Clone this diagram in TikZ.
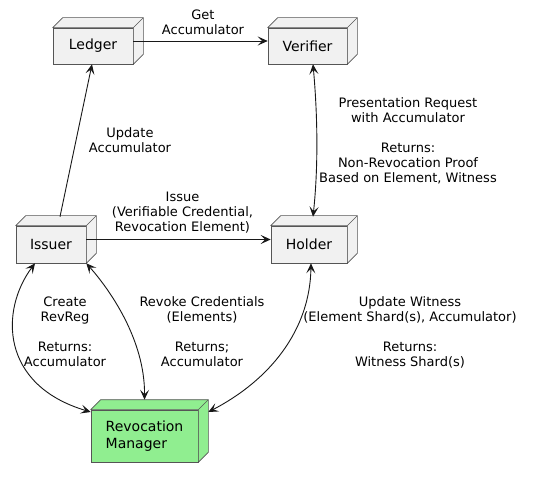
\documentclass[tikz,border=0pt]{standalone}
\usepackage{fontspec}
\setmainfont{DejaVu Sans}
\usetikzlibrary{arrows.meta,calc}
\definecolor{nodefill}{HTML}{F1F1F1}
\definecolor{greenfill}{HTML}{90EE90}
\definecolor{linecol}{HTML}{181818}
\definecolor{bordercol}{HTML}{555555}
\tikzset{
  box/.style={draw=bordercol, line width=0.6pt, fill=#1, rectangle, inner sep=0pt,
    font=\fontsize{14}{16.5}\selectfont},
  lbl/.style={align=center, font=\fontsize{13}{15}\selectfont, inner sep=0pt},
  conn/.style={draw=linecol, line width=0.9pt, >={Stealth[length=10pt,width=9pt,inset=4.5pt]}},
}
\newcommand\boxfaces[2]{%
  \filldraw[fill=#2, draw=bordercol, line width=0.6pt, line join=round]
    (#1.north west) -- ++(10,-10) -- ($(#1.north east)+(10,-10)$)
    -- ($(#1.south east)+(10,-10)$) -- (#1.south east) -- (#1.north east) -- cycle;
  \draw[bordercol, line width=0.6pt] (#1.north east) -- ++(10,-10);
}
\begin{document}
\begin{tikzpicture}[x=1pt,y=-1pt]
\useasboundingbox (0,0) rectangle (533,478);
\fill[white] (0,0) rectangle (533,478);

\node[box=nodefill, minimum width=80pt, minimum height=36pt] (ledger) at (93,46) {Ledger};
\node[box=nodefill, minimum width=79pt, minimum height=36pt] (verifier) at (307.5,46) {Verifier};
\node[box=nodefill, minimum width=70pt, minimum height=37pt] (issuer) at (51,244.5) {Issuer};
\node[box=nodefill, minimum width=76pt, minimum height=37pt] (holder) at (309,244.5) {Holder};
\node[box=greenfill, minimum width=107pt, minimum height=52pt, align=left] (revmgr) at (144.5,436) {Revocation\\Manager};
\boxfaces{ledger}{nodefill}
\boxfaces{verifier}{nodefill}
\boxfaces{issuer}{nodefill}
\boxfaces{holder}{nodefill}
\boxfaces{revmgr}{greenfill}

\coordinate (issuerTop) at ($(issuer.north)+(9,-9)$);
\coordinate (holderTop) at ($(holder.north)+(4,-9)$);
\coordinate (verBot) at ($(verifier.south)+(5.5,0)$);
\coordinate (revTop) at ($(revmgr.north)+(0,-10)$);
\coordinate (revRight) at ($(revmgr.east)+(10,-24)$);
\coordinate (revLeft) at ($(revmgr.west)+(0,-24)$);
\coordinate (issuerBotL) at ($(issuer.south)+(-16,0)$);
\coordinate (holderBot) at ($(holder.south)+(2,0)$);

% edges
\draw[conn,->] ([yshift=5pt]ledger.east) -- ([yshift=5pt]verifier.west);
\draw[conn,->] (issuerTop) -- ($(ledger.south)+(-1,0)$);
\draw[conn,<->] (verBot) .. controls (318,120) and (318,170) .. (holderTop);
\draw[conn,->] ([yshift=5pt]issuer.east) -- ([yshift=5pt]holder.west);
\draw[conn,<->] (issuerBotL) .. controls (0,310) and (0,385) .. (revLeft);
\draw[conn,<->] (issuer.south east) .. controls (110,290) and (145,340) .. (revTop);
\draw[conn,<->] (holderBot) .. controls (310,330) and (270,380) .. (revRight);

% labels
\node[lbl] (l1) at (203,22.5) {Get\\Accumulator};
\node[lbl] (l2) at (130,140.5) {Update\\Accumulator};
\node[lbl] (l3) at (408,140.5) {Presentation Request\\with Accumulator\\[15pt]Returns:\\Non-Revocation Proof\\Based on Element, Witness};
\node[lbl] (l4) at (182.5,213) {Issue\\(Verifiable Credential,\\Revocation Element)};
\node[lbl] (l5) at (65,332) {Create\\RevReg\\[15pt]Returns:\\Accumulator};
\node[lbl] (l6) at (202,332) {Revoke Credentials\\(Elements)\\[15pt]Returns;\\Accumulator};
\node[lbl] (l7) at (410,332) {Update Witness\\(Element Shard(s), Accumulator)\\[15pt]Returns:\\Witness Shard(s)};
\end{tikzpicture}
\end{document}
